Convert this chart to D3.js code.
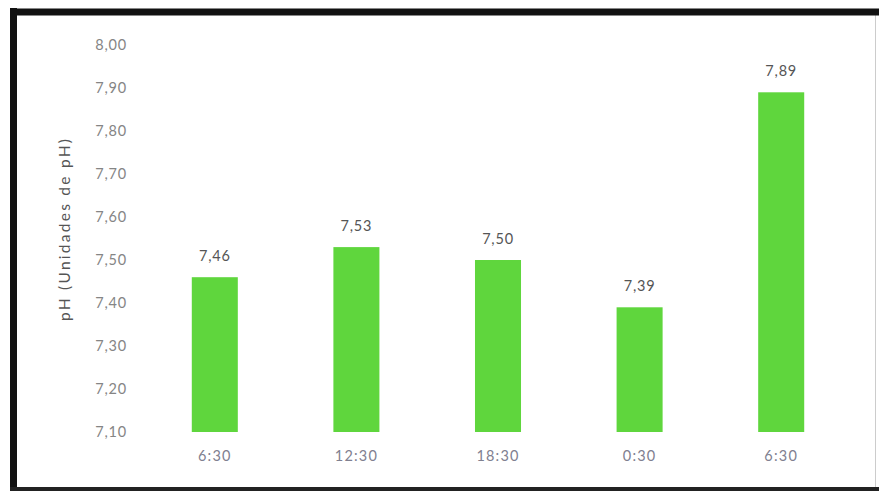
<!DOCTYPE html>
<html>
<head>
<meta charset="utf-8">
<script src="https://cdn.jsdelivr.net/npm/d3@7"></script>
<style>
  body { margin: 0; background: #fff; }
</style>
</head>
<body>
<script>
const categories = ["6:30", "12:30", "18:30", "0:30", "6:30 "];
const phValues = [7.46, 7.53, 7.50, 7.39, 7.89];
const yTicks = [7.10, 7.20, 7.30, 7.40, 7.50, 7.60, 7.70, 7.80, 7.90, 8.00];

const width = 879;
const height = 491;
const fmt = v => d3.format(".2f")(v).replace(".", ",");
const font = "Lato, 'Open Sans', sans-serif";

const svg = d3.select("body").append("svg")
    .attr("width", width)
    .attr("height", height)
    .attr("viewBox", [0, 0, width, height]);

// frame of the scanned figure
svg.append("rect")
    .attr("x", 13.5).attr("y", 12).attr("width", 862).attr("height", 476)
    .attr("fill", "none").attr("stroke", "#ccc").attr("stroke-width", 1);
svg.append("line").attr("x1", 10).attr("x2", width).attr("y1", 12).attr("y2", 12)
    .attr("stroke", "#111").attr("stroke-width", 7);
svg.append("line").attr("x1", 13.5).attr("x2", 13.5).attr("y1", 8).attr("y2", height)
    .attr("stroke", "#111").attr("stroke-width", 7);
svg.append("line").attr("x1", 10).attr("x2", width).attr("y1", 489).attr("y2", 489)
    .attr("stroke", "#222").attr("stroke-width", 4);

const x = d3.scaleBand()
    .domain(categories)
    .range([144, 852])
    .paddingInner(0.675)
    .paddingOuter(0.3375);

const y = d3.scaleLinear()
    .domain([7.10, 8.00])
    .range([432, 45]);

// y axis labels
const yAxis = svg.append("g")
    .attr("transform", "translate(136,0)")
    .call(d3.axisLeft(y).tickValues(yTicks).tickFormat(fmt).tickSize(0).tickPadding(9));
yAxis.select(".domain").remove();
yAxis.selectAll("text")
    .attr("fill", "#858585")
    .attr("font-family", font)
    .attr("font-size", 14.5)
    .attr("letter-spacing", 0.8);

// x axis labels
const xAxis = svg.append("g")
    .attr("transform", "translate(0,443)")
    .call(d3.axisBottom(x).tickSize(0).tickPadding(8));
xAxis.select(".domain").remove();
xAxis.selectAll("text")
    .attr("fill", "#808090")
    .attr("font-family", font)
    .attr("font-size", 14.5)
    .attr("letter-spacing", 1.2);

// y axis title
svg.append("text")
    .attr("transform", "translate(70,230) rotate(-90)")
    .attr("text-anchor", "middle")
    .attr("fill", "#555")
    .attr("font-family", font)
    .attr("font-size", 15.5)
    .attr("textLength", 182)
    .attr("lengthAdjust", "spacing")
    .text("pH (Unidades de pH)");

// bars
svg.selectAll("rect.bar")
    .data(phValues)
    .join("rect")
    .attr("class", "bar")
    .attr("x", (d, i) => x(categories[i]))
    .attr("y", d => y(d))
    .attr("width", x.bandwidth())
    .attr("height", d => y(7.10) - y(d))
    .attr("fill", "#5fd63d");

// value labels
svg.selectAll("text.val")
    .data(phValues)
    .join("text")
    .attr("class", "val")
    .attr("x", (d, i) => x(categories[i]) + x.bandwidth() / 2)
    .attr("y", d => y(d) - 16)
    .attr("text-anchor", "middle")
    .attr("fill", "#555")
    .attr("font-family", font)
    .attr("font-size", 14.5)
    .attr("letter-spacing", 0.8)
    .text(d => fmt(d));
</script>
</body>
</html>
